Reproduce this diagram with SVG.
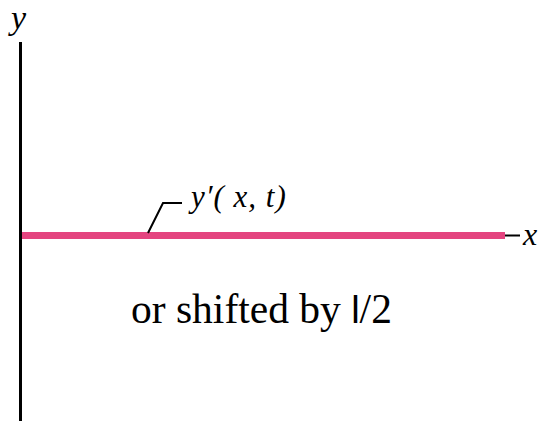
<svg xmlns="http://www.w3.org/2000/svg" width="542" height="424" viewBox="0 0 542 424">
<style>
.ax{stroke:#000;stroke-width:3;fill:none}
.it{font-family:"Liberation Serif","Times New Roman",serif;font-style:italic;fill:#000}
.rm{font-family:"Liberation Serif","Times New Roman",serif;fill:#000}
</style>
<rect width="542" height="424" fill="#fff"/>
<g id="connectors">
<line class="ax" x1="20.5" y1="42" x2="20.5" y2="421"/>
<line x1="500" y1="235.5" x2="520" y2="235.5" stroke="#000" stroke-width="2"/>
<line x1="22" y1="235.5" x2="505" y2="235.5" stroke="#E4447F" stroke-width="7"/>
<polyline points="148,233 163,203 182,203" fill="none" stroke="#000" stroke-width="2"/>
</g>
<g id="y-label"><text class="it" x="11" y="29" font-size="34">y</text></g>
<g id="x-label"><text class="it" x="523" y="245" font-size="32">x</text></g>
<g id="wave-label"><text class="it" x="191" y="207" font-size="31" letter-spacing="1">y′( x,  t)</text></g>
<g id="note"><text class="rm" x="131" y="323" font-size="41.5">or shifted by <tspan font-family="Liberation Sans, Arial, sans-serif" font-size="38">l</tspan>/2</text></g>
</svg>
